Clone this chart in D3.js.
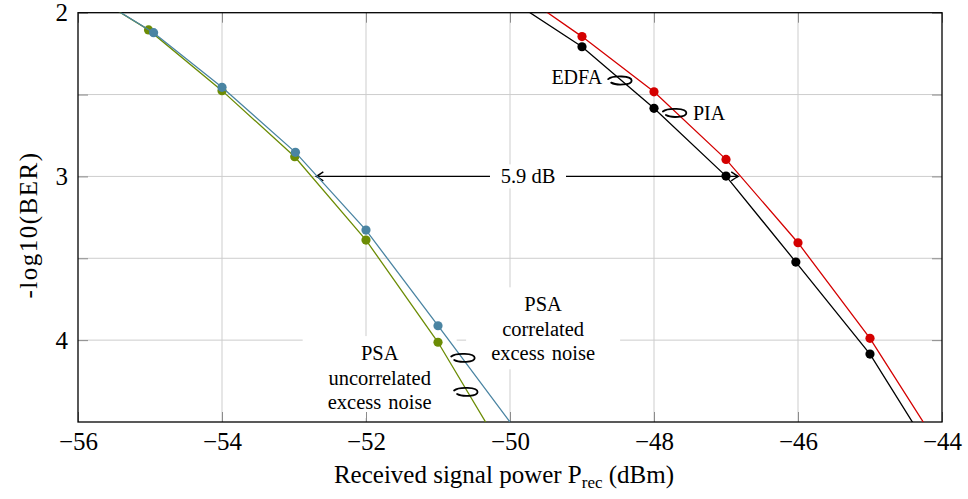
<!DOCTYPE html>
<html>
<head>
<meta charset="utf-8">
<script src="https://cdn.jsdelivr.net/npm/d3@7"></script>
<style>
	body { margin: 0; background: #fff; }
	text { font-family: "Liberation Serif", "Times New Roman", serif; fill: #000; }
</style>
</head>
<body>
<div class="container"></div>
<script>
// values (dBm, -log10 BER)
// first / last points lie outside the axes and only set where the clipped lines leave the plot
var x_psa_unc = [-56, -55.02, -54, -52.99, -52, -51, -50];
var y_psa_unc = [1.84, 2.105, 2.476, 2.88, 3.389, 4.013, 4.75];

var x_psa_cor = [-56, -54.95, -54, -52.98, -52, -51, -50];
var y_psa_cor = [1.84, 2.122, 2.456, 2.853, 3.328, 3.912, 4.50];

var x_edfa = [-50, -49, -48, -47, -46.03, -45, -44];
var y_edfa = [1.92, 2.208, 2.584, 2.998, 3.523, 4.085, 4.79];

var x_pia = [-50, -49, -48, -47, -46, -45, -44];
var y_pia = [1.84, 2.146, 2.483, 2.896, 3.405, 3.989, 4.68];

var x_ticks = [-56, -54, -52, -50, -48, -46, -44];
var y_ticks = [2, 2.5, 3, 3.5, 4];
var y_tick_labels = [2, 3, 4];

// 5.9 dB arrow, at -log10(BER) = 3
var arrow_x = [-52.69, -46.83];
var arrow_y = 3;
var arrow_label = "5.9 dB";

// curls that tie a label to its curve
var curl_x = [-48.47, -47.71, -50.65, -50.61];
var curl_y = [2.415, 2.613, 4.109, 4.317];

var margin = {top: 12.7, right: 26, bottom: 77, left: 78},
	width = 968 - margin.left - margin.right,
	height = 499 - margin.top - margin.bottom;

var x_scale = d3.scaleLinear()
	.domain([-56, -44])
	.range([0, width]);

var y_scale = d3.scaleLinear()
	.domain([2, 4.5])
	.range([0, height]);

var series = [
	{xs: x_psa_unc, ys: y_psa_unc, color: '#6c8c05'},
	{xs: x_psa_cor, ys: y_psa_cor, color: '#4a84a2'},
	{xs: x_edfa, ys: y_edfa, color: '#000000'},
	{xs: x_pia, ys: y_pia, color: '#d40000'}
];

var svg = d3.select(".container").append('svg')
	.attr('width', width + margin.left + margin.right)
	.attr('height', height + margin.top + margin.bottom);

var canvas = svg.append('g')
	.attr('transform', 'translate(' + margin.left + ',' + margin.top + ')');

svg.append('defs').append('clipPath')
	.attr('id', 'plot-clip')
	.append('rect')
	.attr('width', width)
	.attr('height', height);

// grid
canvas.append('g').selectAll('line.gx')
	.data(x_ticks.slice(1, -1))
	.enter().append('line')
	.attr('x1', function(d) { return x_scale(d); })
	.attr('x2', function(d) { return x_scale(d); })
	.attr('y1', 0).attr('y2', height)
	.attr('stroke', '#cdcdcd').attr('stroke-width', 1);

canvas.append('g').selectAll('line.gy')
	.data(y_ticks.slice(1))
	.enter().append('line')
	.attr('y1', function(d) { return y_scale(d); })
	.attr('y2', function(d) { return y_scale(d); })
	.attr('x1', 0).attr('x2', width)
	.attr('stroke', '#cdcdcd').attr('stroke-width', 1);

// arrow 5.9 dB
var ay = y_scale(arrow_y),
	ax0 = x_scale(arrow_x[0]),
	ax1 = x_scale(arrow_x[1]);
canvas.append('line')
	.attr('x1', ax0).attr('x2', ax1)
	.attr('y1', ay).attr('y2', ay)
	.attr('stroke', '#000').attr('stroke-width', 1.4);
var head = function(tx, dir) {
	return 'M' + (tx - dir * 7) + ',' + (ay - 4.5) +
		' Q' + (tx - dir * 2) + ',' + (ay - 1) + ' ' + tx + ',' + ay +
		' Q' + (tx - dir * 2) + ',' + (ay + 1) + ' ' + (tx - dir * 7) + ',' + (ay + 4.5);
};
canvas.append('path').attr('d', head(ax0, -1))
	.attr('fill', 'none').attr('stroke', '#000').attr('stroke-width', 1.4);
canvas.append('path').attr('d', head(ax1, 1))
	.attr('fill', 'none').attr('stroke', '#000').attr('stroke-width', 1.4);

// label blocks with white background
var blocks = [
	{x: -49.54, y: 3.824, lines: ['PSA', 'correlated', 'excess noise']},
	{x: -51.81, y: 4.122, lines: ['PSA', 'uncorrelated', 'excess noise']}
];
blocks.forEach(function(b) {
	var cx = x_scale(b.x), by = y_scale(b.y);
	canvas.append('rect')
		.attr('x', cx - 77).attr('y', by - 24)
		.attr('width', 154).attr('height', 82)
		.attr('fill', '#fff');
});
canvas.append('rect')
	.attr('x', x_scale(-49.75) - 38).attr('y', ay - 12)
	.attr('width', 76).attr('height', 24)
	.attr('fill', '#fff');

// frame & ticks
canvas.append('g')
	.attr('transform', 'translate(0,' + height + ')')
	.call(d3.axisBottom(x_scale).tickValues(x_ticks).tickSize(-10).tickPadding(10.5))
	.call(function(g) {
		g.select('.domain').remove();
		g.selectAll('.tick line').attr('stroke', '#8c8c8c');
		g.selectAll('.tick text').attr('font-size', 25).attr('font-family', '"Liberation Serif", serif');
	});
canvas.append('g')
	.call(d3.axisTop(x_scale).tickValues(x_ticks).tickSize(-10).tickFormat(''))
	.call(function(g) {
		g.select('.domain').remove();
		g.selectAll('.tick line').attr('stroke', '#8c8c8c');
	});
canvas.append('g')
	.call(d3.axisLeft(y_scale).tickValues(y_ticks).tickSize(-10).tickPadding(10)
		.tickFormat(function(d) { return y_tick_labels.indexOf(d) >= 0 ? d : ''; }))
	.call(function(g) {
		g.select('.domain').remove();
		g.selectAll('.tick line').attr('stroke', '#8c8c8c');
		g.selectAll('.tick text').attr('font-size', 25).attr('font-family', '"Liberation Serif", serif');
	});
canvas.append('g')
	.attr('transform', 'translate(' + width + ',0)')
	.call(d3.axisRight(y_scale).tickValues(y_ticks).tickSize(-10).tickFormat(''))
	.call(function(g) {
		g.select('.domain').remove();
		g.selectAll('.tick line').attr('stroke', '#8c8c8c');
	});
canvas.append('rect')
	.attr('width', width).attr('height', height)
	.attr('fill', 'none').attr('stroke', '#000').attr('stroke-width', 1.3);

// curves
var lineFunction = d3.line()
	.x(function(d) { return x_scale(d.x); })
	.y(function(d) { return y_scale(d.y); });

var plot = canvas.append('g').attr('clip-path', 'url(#plot-clip)');
series.forEach(function(s) {
	var pts = s.xs.map(function(x, i) { return {x: x, y: s.ys[i]}; });
	plot.append('path')
		.attr('d', lineFunction(pts))
		.attr('fill', 'none')
		.attr('stroke', s.color)
		.attr('stroke-width', 1.3);
	plot.selectAll(null)
		.data(pts.filter(function(d) { return d.y > 2.02 && d.y < 4.48; }))
		.enter().append('circle')
		.attr('cx', function(d) { return x_scale(d.x); })
		.attr('cy', function(d) { return y_scale(d.y); })
		.attr('r', 4.6)
		.attr('fill', s.color);
});

// curls: open loop, over the top to the right and back underneath
curl_x.forEach(function(cxv, i) {
	var cx = x_scale(cxv), cy = y_scale(curl_y[i]);
	var p = d3.path();
	p.moveTo(cx - 12, cy - 1.5);
	p.bezierCurveTo(cx - 7, cy - 5.5, cx + 11.5, cy - 5, cx + 11.5, cy);
	p.bezierCurveTo(cx + 11.5, cy + 4.5, cx - 4, cy + 5, cx - 9, cy + 2);
	canvas.append('path')
		.attr('d', p.toString())
		.attr('fill', 'none')
		.attr('stroke', '#000')
		.attr('stroke-width', 1.8)
		.attr('stroke-linecap', 'round');
});

// texts
canvas.append('text')
	.attr('x', x_scale(-48.72)).attr('y', y_scale(2.436))
	.attr('text-anchor', 'end').attr('font-size', 20)
	.text('EDFA');
canvas.append('text')
	.attr('x', x_scale(-47.46)).attr('y', y_scale(2.655))
	.attr('text-anchor', 'start').attr('font-size', 20)
	.text('PIA');
canvas.append('text')
	.attr('x', x_scale(-49.75)).attr('y', ay + 7)
	.attr('text-anchor', 'middle').attr('font-size', 20.5)
	.text(arrow_label);
blocks.forEach(function(b) {
	var t = canvas.append('text')
		.attr('text-anchor', 'middle').attr('font-size', 20.5)
		.attr('word-spacing', 2);
	b.lines.forEach(function(l, i) {
		t.append('tspan')
			.attr('x', x_scale(b.x))
			.attr('y', y_scale(b.y) + i * 24.5)
			.text(l);
	});
});

// axis titles
var xl = svg.append('text')
	.attr('x', margin.left + width / 2 - 6)
	.attr('y', 483)
	.attr('text-anchor', 'middle')
	.attr('font-size', 25);
xl.append('tspan').text('Received signal power P');
xl.append('tspan').attr('font-size', 17).attr('dy', 5).text('rec');
xl.append('tspan').attr('dy', -5).text(' (dBm)');

svg.append('text')
	.attr('transform', 'translate(37,225) rotate(-90)')
	.attr('text-anchor', 'middle')
	.attr('font-size', 25)
	.attr('letter-spacing', 1.5)
	.text('-log10(BER)');
</script>
</body>
</html>
